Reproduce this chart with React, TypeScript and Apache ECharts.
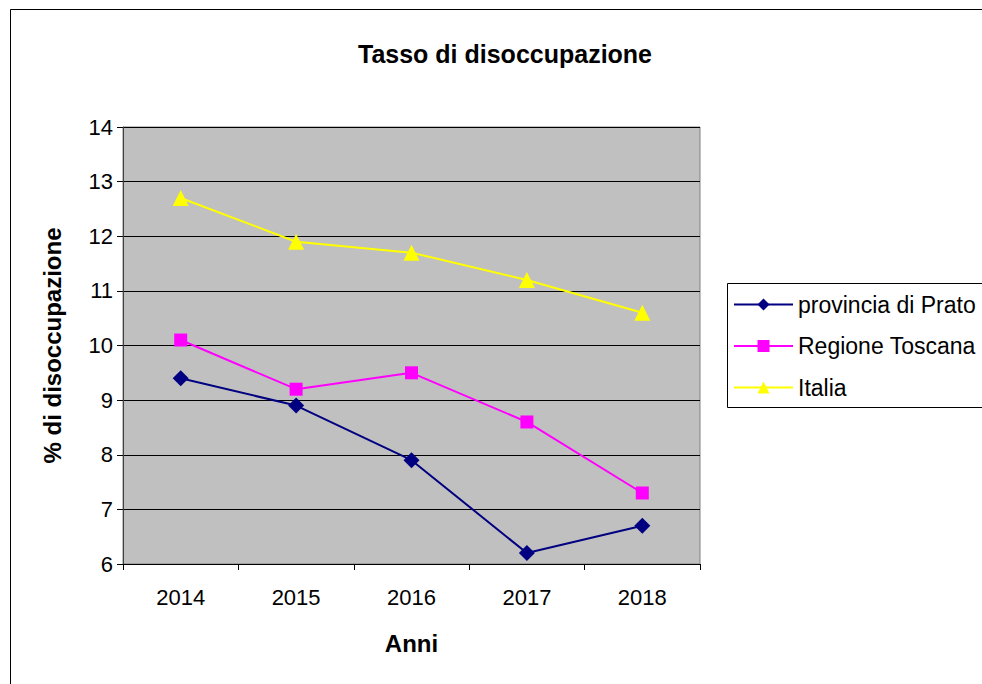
import React, { useEffect, useRef } from "react";
import * as echarts from "echarts";

const years = ["2014", "2015", "2016", "2017", "2018"];
const prato = [9.4, 8.9, 7.9, 6.2, 6.7];
const toscana = [10.1, 9.2, 9.5, 8.6, 7.3];
const italia = [12.7, 11.9, 11.7, 11.2, 10.6];

const FONT = "'Liberation Sans', Arial, sans-serif";

export default function App() {
  const ref = useRef<HTMLDivElement>(null);
  useEffect(() => {
    document.body.style.margin = "0";
    const chart = echarts.init(ref.current!, undefined, { renderer: "svg" });
    const mk = (name: string, data: number[], color: string, symbol: string, size: number) => ({
      name,
      type: "line",
      data,
      symbol,
      symbolSize: size,
      lineStyle: { color, width: 2 },
      itemStyle: { color },
    });
    chart.setOption({
      animation: false,
      backgroundColor: "#ffffff",
      textStyle: { fontFamily: FONT },
      title: {
        text: "Tasso di disoccupazione",
        left: 500,
        textAlign: "center",
        top: 36,
        textStyle: { fontSize: 25, fontWeight: "bold", color: "#000", fontFamily: FONT },
      },
      graphic: [
        {
          type: "rect",
          shape: { x: 10.5, y: 9.5, width: 1000, height: 700 },
          style: { fill: "none", stroke: "#000", lineWidth: 1 },
          silent: true,
        },
        {
          type: "rect",
          shape: { x: 727.5, y: 283.5, width: 300, height: 124 },
          style: { fill: "#fff", stroke: "#000", lineWidth: 1 },
          silent: true,
          z: 1,
        },
      ],
      legend: {
        left: 733,
        top: 293,
        orient: "vertical",
        itemGap: 18.5,
        itemWidth: 59,
        itemHeight: 15,
        padding: 0,
        z: 10,
        textStyle: { fontSize: 23, color: "#000", fontFamily: FONT, padding: [0, 0, 0, 0] },
        data: ["provincia di Prato", "Regione Toscana", "Italia"],
      },
      grid: {
        left: 123,
        top: 127,
        width: 577,
        height: 437,
        show: true,
        backgroundColor: "#C0C0C0",
        borderColor: "#808080",
        borderWidth: 1,
      },
      xAxis: {
        type: "category",
        data: years,
        boundaryGap: true,
        name: "Anni",
        nameLocation: "middle",
        nameGap: 67,
        nameTextStyle: { fontSize: 24, fontWeight: "bold", color: "#000", fontFamily: FONT },
        axisLine: { lineStyle: { color: "#000", width: 1 } },
        axisTick: { show: true, alignWithLabel: false, length: 6, lineStyle: { color: "#000" } },
        axisLabel: { fontSize: 22, color: "#000", margin: 22, fontFamily: FONT },
        splitLine: { show: false },
      },
      yAxis: {
        type: "value",
        min: 6,
        max: 14,
        interval: 1,
        name: "% di disoccupazione",
        nameLocation: "middle",
        nameGap: 59,
        nameRotate: 90,
        nameTextStyle: { fontSize: 24, fontWeight: "bold", color: "#000", fontFamily: FONT },
        axisLine: { show: true, lineStyle: { color: "#404040", width: 1 } },
        axisTick: { show: true, length: 6, lineStyle: { color: "#000" } },
        axisLabel: { fontSize: 22, color: "#000", margin: 10, fontFamily: FONT },
        splitLine: { show: true, lineStyle: { color: "#000", width: 1 } },
      },
      series: [
        mk("provincia di Prato", prato, "#000080", "diamond", 16),
        mk("Regione Toscana", toscana, "#FF00FF", "rect", 13),
        mk("Italia", italia, "#FFFF00", "triangle", 16),
      ],
    });
    return () => chart.dispose();
  }, []);
  return <div ref={ref} style={{ width: 982, height: 684 }} />;
}
